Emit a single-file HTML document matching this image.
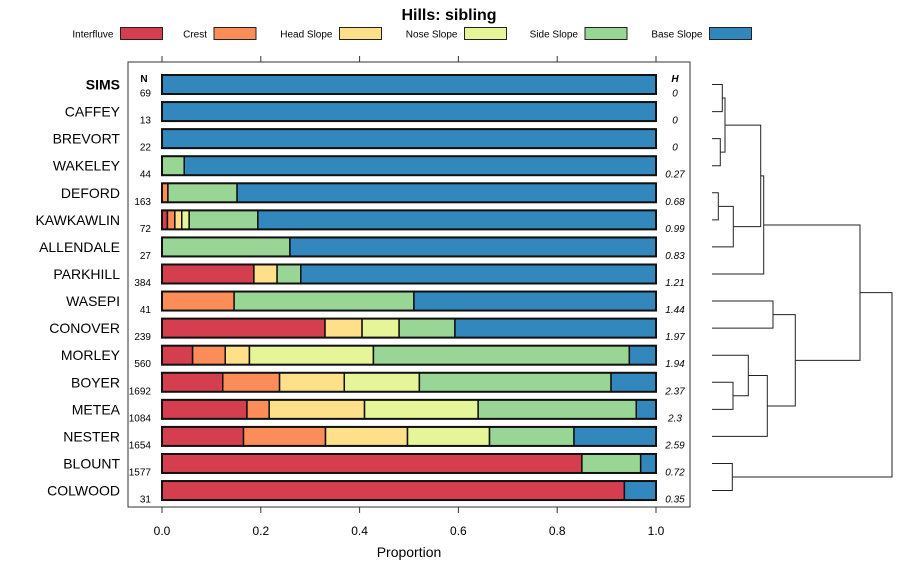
<!DOCTYPE html>
<html><head><meta charset="utf-8"><style>
body{margin:0;background:#fff;}
svg{display:block;font-family:"Liberation Sans",sans-serif;}
</style></head><body>
<svg id="chart" width="900" height="580" viewBox="0 0 900 580">
<text x="449" y="20" text-anchor="middle" font-size="16" font-weight="bold">Hills: sibling</text>
<g id="legend"></g>
<rect x="128" y="62" width="562" height="445" fill="none" stroke="#333" stroke-width="1"/>
<g id="axis"></g>
<g id="bars"></g>
<g id="labels"></g>
<text x="144" y="82" text-anchor="middle" font-size="10" font-weight="bold">N</text>
<text x="675" y="82" text-anchor="middle" font-size="10" font-weight="bold" font-style="italic">H</text>
<text x="409" y="557" text-anchor="middle" font-size="14">Proportion</text>
<g id="dendro" fill="none" stroke="#222" stroke-width="1"></g>
</svg>
<script>
const seriesNames = ["Interfluve","Crest","Head Slope","Nose Slope","Side Slope","Base Slope"];
const colors = ["#D53E4F","#FC8D59","#FEE08B","#E6F598","#99D594","#3288BD"];
const categories = ["SIMS","CAFFEY","BREVORT","WAKELEY","DEFORD","KAWKAWLIN","ALLENDALE","PARKHILL","WASEPI","CONOVER","MORLEY","BOYER","METEA","NESTER","BLOUNT","COLWOOD"];
const nValues = [69,13,22,44,163,72,27,384,41,239,560,1692,1084,1654,1577,31];
const hValues = ["0","0","0","0.27","0.68","0.99","0.83","1.21","1.44","1.97","1.94","2.37","2.3","2.59","0.72","0.35"];
const interfluve = [0,0,0,0,0,0.011,0,0.186,0,0.330,0.062,0.123,0.172,0.165,0.850,0.936];
const crest      = [0,0,0,0,0.012,0.015,0,0,0.146,0,0.066,0.115,0.045,0.166,0,0];
const headSlope  = [0,0,0,0,0,0.014,0,0.047,0,0.075,0.049,0.131,0.193,0.166,0,0];
const noseSlope  = [0,0,0,0,0,0.015,0,0,0,0.075,0.251,0.152,0.230,0.166,0,0];
const sideSlope  = [0,0,0,0.045,0.140,0.139,0.259,0.048,0.364,0.113,0.518,0.388,0.320,0.171,0.119,0];
const baseSlope  = [1,1,1,0.955,0.848,0.806,0.741,0.719,0.490,0.407,0.054,0.091,0.040,0.166,0.031,0.064];
const xTicks = [0,0.2,0.4,0.6,0.8,1.0];
const xTickLabels = ["0.0","0.2","0.4","0.6","0.8","1.0"];

const NS="http://www.w3.org/2000/svg";
function mk(tag,attrs,parent){const e=document.createElementNS(NS,tag);for(const k in attrs)e.setAttribute(k,attrs[k]);parent.appendChild(e);return e;}
const xScale = v => 162 + v*494;
const yScale = i => 84.5 + i*27.07;
const series = [interfluve,crest,headSlope,noseSlope,sideSlope,baseSlope];

const legend=document.getElementById('legend');
const legendX=[120.5,214,339.5,464.5,585,709.5];
seriesNames.forEach((s,k)=>{
  const rx=legendX[k];
  const t=mk('text',{x:rx-7,y:37.5,'text-anchor':'end','font-size':'10'},legend);
  t.textContent=s;
  
  
  const r=mk('rect',{x:rx,y:27.5,width:42,height:12,fill:colors[k],stroke:'#222','stroke-width':1},legend);
  
  
});

const axis=document.getElementById('axis');
xTicks.forEach((v,i)=>{
  const x=xScale(v);
  mk('line',{x1:x,x2:x,y1:56,y2:62,stroke:'#333'},axis);
  mk('line',{x1:x,x2:x,y1:507,y2:513,stroke:'#333'},axis);
  const t=mk('text',{x:x,y:535,'text-anchor':'middle','font-size':'12'},axis);
  t.textContent=xTickLabels[i];
  
  
});

const bars=document.getElementById('bars');
const labels=document.getElementById('labels');
categories.forEach((c,i)=>{
  const yc=yScale(i);
  let cum=0;
  series.forEach((arr,k)=>{
    const v=arr[i];
    if(v>0){
      const r=mk('rect',{x:xScale(cum),y:yc-9.5,width:xScale(cum+v)-xScale(cum),height:19,fill:colors[k],stroke:'#111','stroke-width':1.5},bars);
      
      
    }
    cum+=v;
  });
  const o=mk('rect',{x:xScale(0),y:yc-9.5,width:xScale(1)-xScale(0),height:19,fill:'none',stroke:'#111','stroke-width':2},bars);
  
  
  const t=mk('text',{x:120,y:yc+5,'text-anchor':'end','font-size':'14','font-weight':i===0?'bold':'normal'},labels);
  t.textContent=c;
  
  
  const n=mk('text',{x:151,y:yc+12,'text-anchor':'end','font-size':'10'},labels);
  n.textContent=nValues[i];
  
  
  const h=mk('text',{x:675,y:yc+12,'text-anchor':'middle','font-size':'10','font-style':'italic'},labels);
  h.textContent=hValues[i];
  
  
});

// dendrogram
const dendro=document.getElementById('dendro');
const L=712;
function link(xa,ya,xb,yb,xm){
  mk('path',{d:`M${xa},${yScale(ya)}H${xm}V${yScale(yb)}H${xb}`},dendro);
}
link(L,0,L,1,722.3);
link(L,2,L,3,720.3);
link(722.3,0.5,720.3,2.5,725);
link(L,4,L,5,718.3);
link(718.3,4.5,L,6,733.3);
link(725,1.5,733.3,5.25,760.7);
link(760.7,3.375,L,7,763.7);
link(L,8,L,9,773);
link(L,11,L,12,733);
link(L,10,733,11.5,748.3);
link(748.3,10.75,L,13,767.3);
link(773,8.5,767.3,11.875,795.3);
link(763.7,5.19,795.3,10.19,860);
link(L,14,L,15,732.3);
link(860,7.69,732.3,14.5,892);
</script>
</body></html>
